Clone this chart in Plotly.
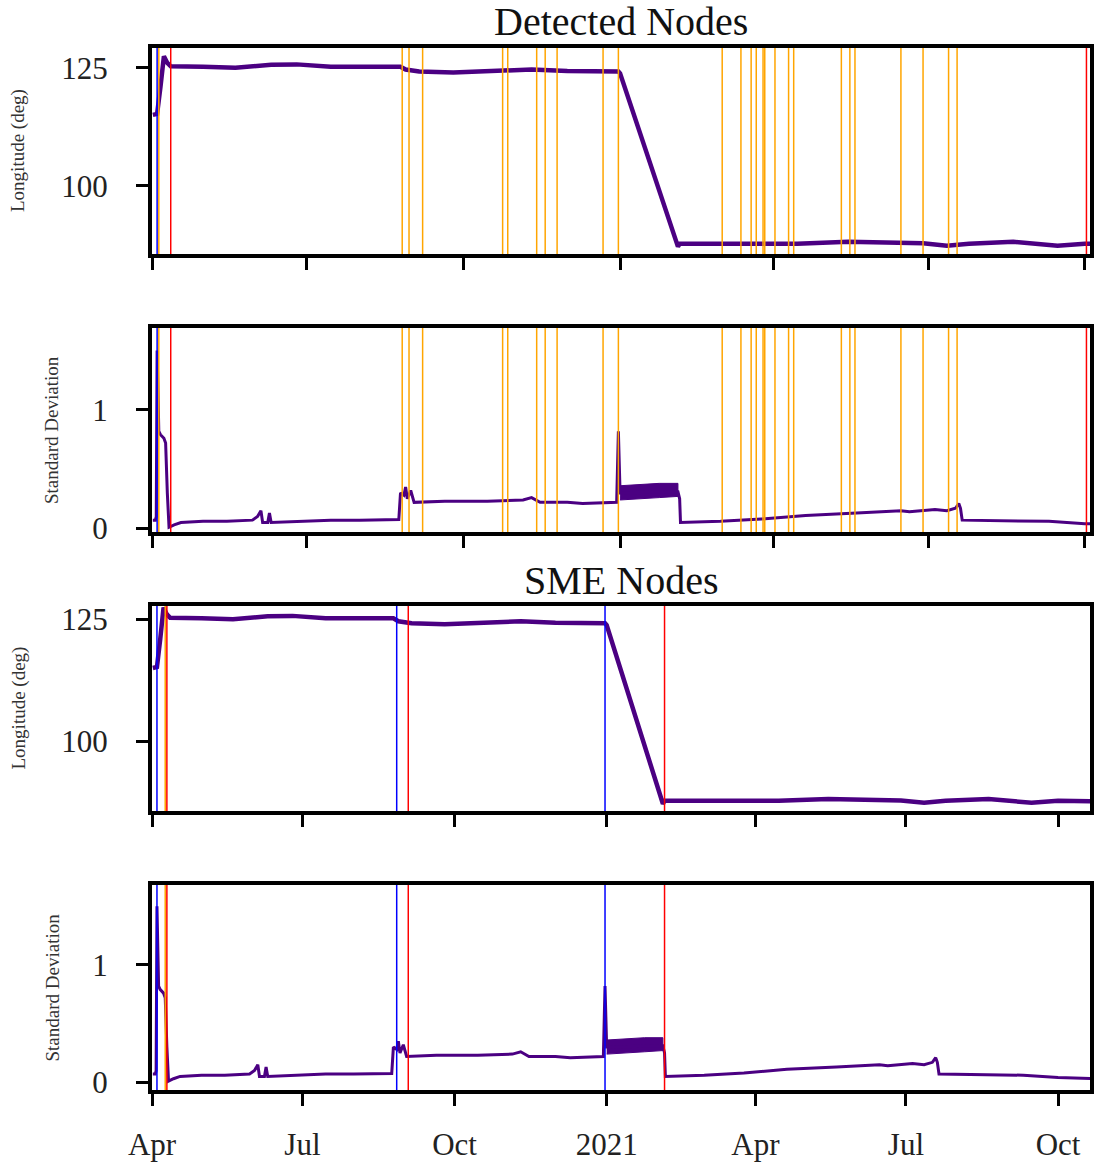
import plotly.graph_objects as go

# ---------------- data ----------------
lon_dates = ["2020-04-01 12:00", "2020-04-03", "2020-04-04", "2020-04-06", "2020-04-08", "2020-04-10",
             "2020-04-12", "2020-05-01", "2020-05-20", "2020-06-10", "2020-06-25", "2020-07-15",
             "2020-08-10", "2020-08-25", "2020-08-28", "2020-09-05", "2020-09-25", "2020-10-20",
             "2020-11-10", "2020-12-01", "2020-12-20", "2020-12-31", "2021-01-01", "2021-02-04",
             "2021-02-05", "2021-03-10", "2021-04-15", "2021-05-15", "2021-06-10", "2021-06-28",
             "2021-07-12", "2021-07-25", "2021-08-20", "2021-09-15", "2021-10-01", "2021-10-23"]
lon_values = [115.0, 115.0, 115.2, 121.0, 127.4, 126.0,
              125.3, 125.2, 125.0, 125.6, 125.7, 125.2,
              125.3, 125.2, 124.6, 124.2, 124.0, 124.4,
              124.6, 124.3, 124.1, 124.2, 123.8, 87.1,
              87.7, 87.7, 87.7, 88.1, 88.0, 87.8,
              87.3, 87.7, 88.1, 87.3, 87.7, 87.6]

std_dates = ["2020-04-01 12:00", "2020-04-03", "2020-04-03 12:00", "2020-04-04", "2020-04-05",
             "2020-04-06", "2020-04-08", "2020-04-09", "2020-04-10", "2020-04-11", "2020-04-14",
             "2020-04-18", "2020-05-01", "2020-05-15", "2020-05-30", "2020-06-02", "2020-06-04",
             "2020-06-05", "2020-06-08", "2020-06-09", "2020-06-10", "2020-06-30", "2020-07-15",
             "2020-08-01", "2020-08-24", "2020-08-25", "2020-08-27", "2020-08-28", "2020-08-29",
             "2020-08-31", "2020-09-02", "2020-09-20", "2020-10-15", "2020-11-05", "2020-11-10",
             "2020-11-15", "2020-12-01", "2020-12-10", "2020-12-30", "2020-12-31", "2021-01-01",
             "2021-02-04", "2021-02-05", "2021-02-05 12:00", "2021-03-01", "2021-03-25", "2021-04-20",
             "2021-05-20", "2021-06-15", "2021-06-20", "2021-07-05", "2021-07-12", "2021-07-17",
             "2021-07-19", "2021-07-20", "2021-07-21", "2021-08-20", "2021-09-10", "2021-10-01",
             "2021-10-23"]
std_values = [0.07, 0.07, 0.10, 1.50, 0.82,
              0.79, 0.76, 0.72, 0.30, 0.01, 0.03,
              0.05, 0.06, 0.06, 0.07, 0.10, 0.15,
              0.05, 0.05, 0.13, 0.05, 0.06, 0.07,
              0.07, 0.075, 0.30, 0.28, 0.35, 0.25,
              0.32, 0.22, 0.23, 0.23, 0.24, 0.26,
              0.22, 0.22, 0.21, 0.22, 0.82, 0.30,
              0.31, 0.25, 0.05, 0.06, 0.08, 0.11,
              0.13, 0.15, 0.14, 0.16, 0.15, 0.17,
              0.21, 0.17, 0.07, 0.065, 0.06, 0.04,
              0.03]

band_dates = ["2021-01-01", "2021-01-12", "2021-01-24", "2021-02-04"]
band_low = [0.24, 0.25, 0.26, 0.27]
band_high = [0.36, 0.37, 0.38, 0.38]

det_blue = ["2020-04-04"]
det_orange = ["2020-04-05", "2020-08-26", "2020-08-30", "2020-09-07", "2020-10-24", "2020-10-27",
              "2020-11-13", "2020-11-18", "2020-11-25", "2020-12-22", "2020-12-31", "2021-03-02",
              "2021-03-13", "2021-03-19", "2021-03-22", "2021-03-26", "2021-03-27", "2021-04-02",
              "2021-04-10", "2021-04-13", "2021-05-11", "2021-05-16", "2021-05-19", "2021-06-15",
              "2021-06-28", "2021-07-13", "2021-07-18"]
det_red = ["2020-04-12", "2021-10-02"]

sme_blue = ["2020-04-04", "2020-08-27", "2020-12-31"]
sme_orange = ["2020-04-09"]
sme_red = ["2020-04-10", "2020-09-03", "2021-02-05"]

quarter_ticks = ["2020-04-01", "2020-07-01", "2020-10-01", "2021-01-01",
                 "2021-04-01", "2021-07-01", "2021-10-01"]
quarter_labels = ["Apr", "Jul", "Oct", "2021", "Apr", "Jul", "Oct"]

lon_ticks = [100, 125]
std_ticks = [0, 1]

# ---------------- figure ----------------
W, H = 1094, 1167
ML, MR, MT, MB = 152, 4, 48, 77
PH = H - MT - MB
PW = W - ML - MR


def ydom(top_px, bot_px):
    return [(H - MB - bot_px) / PH, (H - MB - top_px) / PH]


PURPLE = "#4B0082"
FONT = "Liberation Serif"

panels = [
    dict(dom=ydom(48, 254), yr=[85.53, 129.17], kind="lon", xr=["2020-04-01", "2021-10-04 02:00"],
         blue=det_blue, orange=det_orange, red=det_red),
    dict(dom=ydom(328, 532), yr=[-0.03, 1.69], kind="std", xr=["2020-04-01", "2021-10-04 02:00"],
         blue=det_blue, orange=det_orange, red=det_red),
    dict(dom=ydom(606, 811), yr=[85.62, 127.73], kind="lon", xr=["2020-04-01", "2021-10-20 08:00"],
         blue=sme_blue, orange=sme_orange, red=sme_red),
    dict(dom=ydom(885, 1090), yr=[-0.066, 1.682], kind="std", xr=["2020-04-01", "2021-10-20 08:00"],
         blue=sme_blue, orange=sme_orange, red=sme_red),
]

fig = go.Figure()
shapes = []
layout = {}
for i, p in enumerate(panels, start=1):
    xs = "x" if i == 1 else f"x{i}"
    ys = "y" if i == 1 else f"y{i}"
    if p["kind"] == "lon":
        fig.add_trace(go.Scatter(x=lon_dates, y=lon_values, mode="lines", xaxis=xs, yaxis=ys,
                                 line=dict(color=PURPLE, width=4.5), showlegend=False))
    else:
        fig.add_trace(go.Scatter(x=band_dates + band_dates[::-1], y=band_high + band_low[::-1],
                                 mode="lines", fill="toself", fillcolor=PURPLE, xaxis=xs, yaxis=ys,
                                 line=dict(color=PURPLE, width=1), showlegend=False))
        fig.add_trace(go.Scatter(x=std_dates, y=std_values, mode="lines", xaxis=xs, yaxis=ys,
                                 line=dict(color=PURPLE, width=3), showlegend=False))
    for col, dates in (("#FFA500", p["orange"]), ("#0000FF", p["blue"]), ("#FF0000", p["red"])):
        for d in dates:
            shapes.append(dict(type="line", xref=xs, yref=f"{ys} domain", x0=d, x1=d, y0=0, y1=1,
                               line=dict(color=col, width=1.5), layer="above"))
    axcommon = dict(showline=True, linewidth=4, linecolor="black", mirror=True, ticks="outside",
                    ticklen=12, tickwidth=3, tickcolor="black", showgrid=False, zeroline=False,
                    automargin=False, tickfont=dict(family=FONT, size=31, color="#222"))
    layout["xaxis" if i == 1 else f"xaxis{i}"] = dict(
        axcommon, domain=[0, 1], anchor=ys, type="date", range=p["xr"],
        tickmode="array", tickvals=quarter_ticks, ticktext=quarter_labels,
        showticklabels=(i == 4), ticklabelstandoff=12)
    layout["yaxis" if i == 1 else f"yaxis{i}"] = dict(
        axcommon, domain=p["dom"], anchor=xs, range=p["yr"], tickmode="array",
        tickvals=lon_ticks if p["kind"] == "lon" else std_ticks, ticklabelstandoff=22)


def px_y(pix):
    return (H - MB - pix) / PH


def px_x(pix):
    return (pix - ML) / PW


annotations = [
    dict(text="Detected Nodes", x=0.5, y=px_y(22), xref="paper", yref="paper", showarrow=False,
         xanchor="center", yanchor="middle", font=dict(family=FONT, size=40, color="#111")),
    dict(text="SME Nodes", x=0.5, y=px_y(580), xref="paper", yref="paper", showarrow=False,
         xanchor="center", yanchor="middle", font=dict(family=FONT, size=40, color="#111")),
]
for (cx, top, bot, txt) in [(18, 48, 254, "Longitude (deg)"), (52, 328, 532, "Standard Deviation"),
                            (18, 606, 811, "Longitude (deg)"), (52, 885, 1090, "Standard Deviation")]:
    annotations.append(dict(text=txt, x=px_x(cx), y=px_y((top + bot) / 2), xref="paper", yref="paper",
                            showarrow=False, textangle=-90, xanchor="center", yanchor="middle",
                            font=dict(family=FONT, size=19, color="#333")))

fig.update_layout(template="none", width=W, height=H, margin=dict(l=ML, r=MR, t=MT, b=MB, pad=0),
                  paper_bgcolor="white", plot_bgcolor="white", shapes=shapes,
                  annotations=annotations, showlegend=False, **layout)

fig.write_html("out.html")
